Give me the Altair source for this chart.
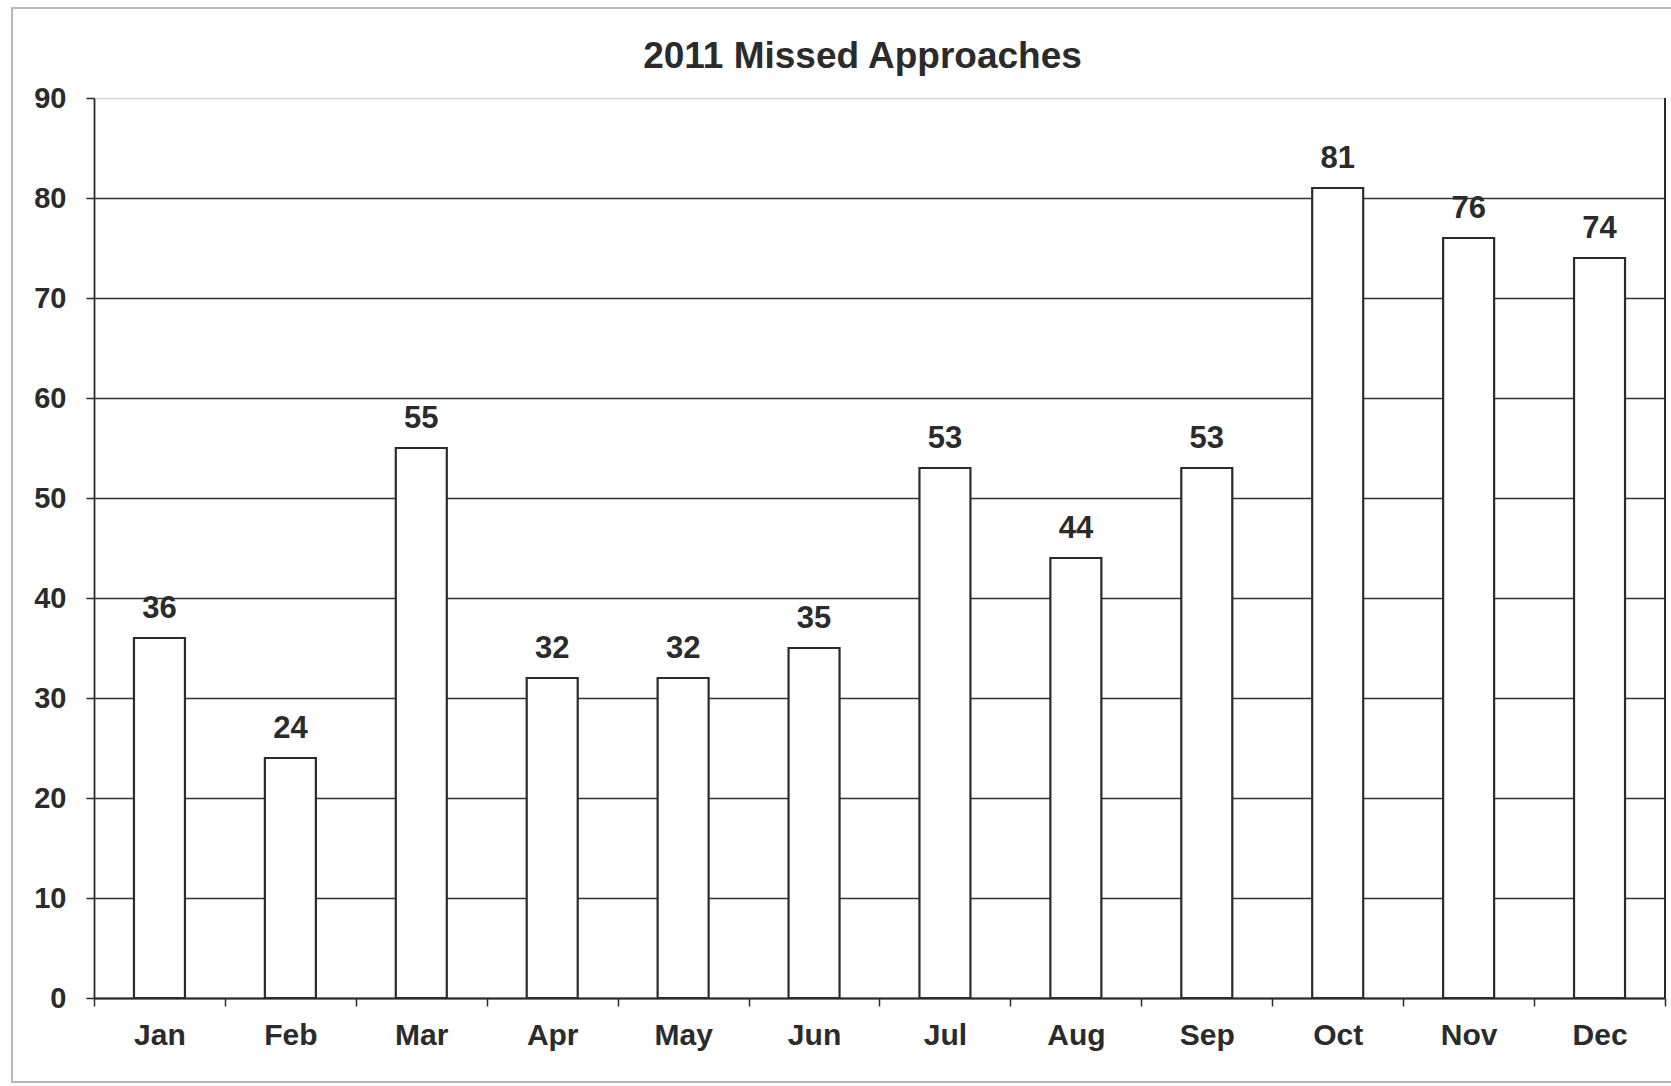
import altair as alt
import pandas as pd

# Monthly missed-approach counts for 2011
months = ["Jan", "Feb", "Mar", "Apr", "May", "Jun",
          "Jul", "Aug", "Sep", "Oct", "Nov", "Dec"]
missed = [36, 24, 55, 32, 32, 35, 53, 44, 53, 81, 76, 74]
y_ticks = [0, 10, 20, 30, 40, 50, 60, 70, 80, 90]
title_text = ["2011 Missed Approaches"]

df = pd.DataFrame({"month": months, "missed": missed})
title_df = pd.DataFrame({"title": title_text})

W, H = 1571, 900
FONT = "Liberation Sans"
INK = "#2b2b2b"

x_enc = alt.X(
    "month:N",
    sort=months,
    scale=alt.Scale(paddingInner=0, paddingOuter=0),
    axis=alt.Axis(
        title=None,
        labelAngle=0,
        tickBand="extent",
        tickSize=8,
        tickColor=INK,
        tickWidth=1.5,
        domainColor=INK,
        domainWidth=1.8,
        labelFont=FONT,
        labelFontSize=30,
        labelFontWeight="bold",
        labelColor=INK,
        labelPadding=14,
        grid=False,
    ),
)

y_enc = alt.Y(
    "missed:Q",
    scale=alt.Scale(domain=[0, 90], nice=False, zero=True),
    axis=alt.Axis(
        title=None,
        values=y_ticks,
        tickSize=8,
        tickColor=INK,
        tickWidth=1.5,
        domainColor=INK,
        domainWidth=1.8,
        labelFont=FONT,
        labelFontSize=29,
        labelFontWeight="bold",
        labelColor=INK,
        labelPadding=20,
        grid=True,
        gridColor={"condition": {"test": "datum.value === 90", "value": "#d4d4d4"},
                   "value": "#333333"},
        gridWidth=1.4,
    ),
)

base = alt.Chart(df)

bars = base.mark_bar(
    size=51, fill="white", stroke=INK, strokeWidth=2.2
).encode(x=x_enc, y=y_enc)

labels = base.mark_text(
    font=FONT, fontSize=31, fontWeight="bold", color=INK,
    baseline="bottom", dy=-13
).encode(x=alt.X("month:N", sort=months), y="missed:Q", text="missed:Q")

# right-hand frame of the plot area
right_edge = base.mark_rule(color=INK, strokeWidth=1.8).encode(
    x=alt.value(W), y=alt.value(0), y2=alt.value(H)
)

# light outer border around the whole chart
outer = base.mark_rect(
    filled=False, stroke="#b8b8b8", strokeWidth=1.5, clip=False
).encode(
    x=alt.value(-82), x2=alt.value(W + 20),
    y=alt.value(-90), y2=alt.value(H + 84)
)

# chart heading, centred over the plot
heading = alt.Chart(title_df).mark_text(
    font=FONT, fontSize=37, fontWeight="bold", color=INK,
    align="center", baseline="alphabetic"
).encode(x=alt.value(W / 2 - 17), y=alt.value(-30), text="title:N")

chart = (
    alt.layer(outer, bars, labels, right_edge, heading)
    .properties(
        width=W,
        height=H,
        padding={"left": 94, "top": 98, "right": 6, "bottom": 88},
        autosize=alt.AutoSizeParams(type="none"),
        background="white",
    )
    .configure_view(stroke=None)
)

chart.save("out.html", embed_options={"renderer": "svg", "actions": False})
